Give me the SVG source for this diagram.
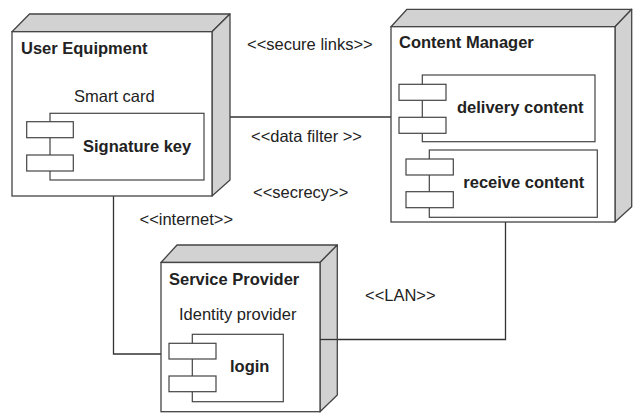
<svg xmlns="http://www.w3.org/2000/svg" width="634" height="413" viewBox="0 0 634 413">
<style>
.face{fill:#fff;stroke:#444;stroke-width:1.3}
.side{fill:#d2d2d2;stroke:#444;stroke-width:1.3;stroke-linejoin:round}
.comp{fill:#fff;stroke:#444;stroke-width:1.2}
.conn{fill:none;stroke:#333;stroke-width:1.3}
text{font-family:"Liberation Sans",Arial,sans-serif;font-size:16.5px;fill:#222}
.b{font-weight:bold}
</style>
<rect width="634" height="413" fill="#fff"/>
<g id="connectors">
<polyline class="conn" points="212,117 391,117"/>
<polyline class="conn" points="113.5,196 113.5,354 161,354"/>
<polyline class="conn" points="505.5,222 505.5,339.5 320,339.5"/>
</g>
<g id="labels">
<text x="247" y="50">&lt;&lt;secure links&gt;&gt;</text>
<text x="251" y="142">&lt;&lt;data filter &gt;&gt;</text>
<text x="253" y="198">&lt;&lt;secrecy&gt;&gt;</text>
<text x="139.5" y="225">&lt;&lt;internet&gt;&gt;</text>
<text x="365" y="301">&lt;&lt;LAN&gt;&gt;</text>
</g>
<g id="user-equipment">
<polygon class="side" points="12,31.7 29.5,14 230,14 212,31.7"/>
<polygon class="side" points="212,31.7 230,14 230,180 212,196"/>
<rect class="face" x="12" y="31.7" width="200" height="164.3"/>
<text class="b" x="21" y="54">User Equipment</text>
<text x="74" y="102">Smart card</text>
<g id="signature-key">
<rect class="comp" x="50" y="113.3" width="154" height="66.7"/>
<rect class="comp" x="26.7" y="121.7" width="46.6" height="16"/>
<rect class="comp" x="26.7" y="155" width="46.6" height="16"/>
<text class="b" x="83" y="152">Signature key</text>
</g>
</g>
<g id="content-manager">
<polygon class="side" points="391,26.7 407,9.3 631.7,9.3 615,26.7"/>
<polygon class="side" points="615,26.7 631.7,9.3 631.7,206.7 615,222"/>
<rect class="face" x="391" y="26.7" width="224" height="195.3"/>
<text class="b" x="399" y="48">Content Manager</text>
<g id="delivery-content">
<rect class="comp" x="422.3" y="75" width="172.7" height="66.7"/>
<rect class="comp" x="399" y="84.3" width="47" height="16"/>
<rect class="comp" x="399" y="117.3" width="47" height="16"/>
<text class="b" x="457" y="113">delivery content</text>
</g>
<g id="receive-content">
<rect class="comp" x="429.3" y="150" width="168" height="67.3"/>
<rect class="comp" x="406" y="159" width="47.3" height="16"/>
<rect class="comp" x="406" y="191.7" width="47.3" height="16"/>
<text class="b" x="463.3" y="188">receive content</text>
</g>
</g>
<g id="service-provider">
<polygon class="side" points="161,262.5 177,245 337.3,245 320,262.5"/>
<polygon class="side" points="320,262.5 337.3,245 337.3,395 320,411.7"/>
<rect class="face" x="161" y="262.5" width="159" height="149.2"/>
<line class="conn" x1="320" y1="339.5" x2="337.3" y2="339.5"/>
<text class="b" x="169" y="285">Service Provider</text>
<text x="179" y="320">Identity provider</text>
<g id="login">
<rect class="comp" x="192.3" y="334.3" width="91" height="67.4"/>
<rect class="comp" x="169" y="343.3" width="47" height="15.7"/>
<rect class="comp" x="169" y="376" width="47" height="15.7"/>
<text class="b" x="230" y="372">login</text>
</g>
</g>
</svg>
